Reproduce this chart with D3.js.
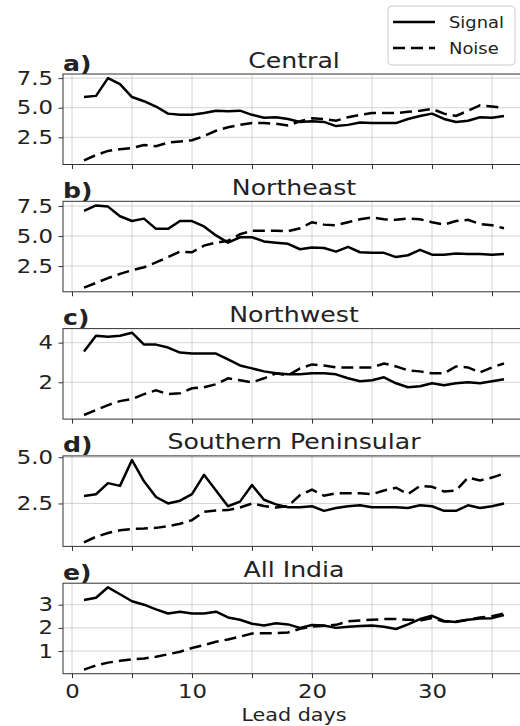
<!DOCTYPE html>
<html>
<head>
<meta charset="utf-8">
<script src="https://cdn.jsdelivr.net/npm/d3@7"></script>
<style>
  body { margin: 0; background: #fff; }
  text { font-family: "DejaVu Sans", sans-serif; fill: #222; }
  .grid line { stroke: #b0b0b0; stroke-opacity: 0.6; stroke-width: 0.9; }
  .axis path { display: none; }
  .axis line { stroke: #333; }
</style>
</head>
<body>
<svg width="520" height="726"></svg>
<script>
/* Lead days and panel names */
var days = d3.range(1, 37);
var regions = ["Central", "Northeast", "Northwest", "Southern Peninsular", "All India"];
var letters = ["a)", "b)", "c)", "d)", "e)"];

/* Signal per region */
var signalCentral = [5.9, 6.0, 7.5, 7.0, 5.9, 5.55, 5.1, 4.5, 4.4, 4.4, 4.55, 4.75, 4.7, 4.75, 4.4, 4.15, 4.2, 4.05, 3.8, 3.85, 3.8, 3.45, 3.55, 3.75, 3.7, 3.7, 3.7, 4.05, 4.3, 4.5, 4.05, 3.8, 3.9, 4.2, 4.15, 4.3];
var signalNortheast = [7.1, 7.55, 7.45, 6.65, 6.25, 6.45, 5.6, 5.6, 6.25, 6.25, 5.8, 5.05, 4.45, 4.9, 4.9, 4.55, 4.45, 4.35, 3.9, 4.05, 4.0, 3.7, 4.1, 3.65, 3.6, 3.6, 3.25, 3.4, 3.85, 3.45, 3.45, 3.55, 3.5, 3.5, 3.45, 3.5];
var signalNorthwest = [3.55, 4.35, 4.3, 4.35, 4.5, 3.9, 3.9, 3.75, 3.5, 3.45, 3.45, 3.45, 3.15, 2.85, 2.7, 2.55, 2.45, 2.4, 2.4, 2.45, 2.45, 2.4, 2.2, 2.05, 2.1, 2.25, 1.95, 1.75, 1.8, 1.95, 1.85, 1.95, 2.0, 1.95, 2.05, 2.15];
var signalSouth = [2.9, 3.0, 3.6, 3.45, 4.85, 3.7, 2.85, 2.5, 2.65, 3.0, 4.05, 3.2, 2.35, 2.6, 3.5, 2.7, 2.45, 2.3, 2.3, 2.35, 2.1, 2.25, 2.35, 2.4, 2.3, 2.3, 2.3, 2.25, 2.4, 2.35, 2.1, 2.1, 2.4, 2.25, 2.35, 2.5];
var signalIndia = [3.2, 3.3, 3.75, 3.45, 3.15, 3.0, 2.8, 2.62, 2.7, 2.62, 2.62, 2.7, 2.45, 2.35, 2.18, 2.1, 2.2, 2.15, 2.0, 2.12, 2.1, 2.0, 2.05, 2.08, 2.1, 2.05, 1.95, 2.15, 2.38, 2.52, 2.3, 2.25, 2.35, 2.4, 2.42, 2.55];

/* Noise per region */
var noiseCentral = [0.55, 1.0, 1.35, 1.5, 1.6, 1.85, 1.75, 2.05, 2.15, 2.25, 2.6, 3.05, 3.35, 3.55, 3.7, 3.7, 3.65, 3.5, 3.85, 4.1, 4.05, 3.9, 4.2, 4.4, 4.55, 4.55, 4.55, 4.65, 4.75, 4.9, 4.5, 4.3, 4.75, 5.2, 5.1, 5.0];
var noiseNortheast = [0.7, 1.1, 1.5, 1.85, 2.15, 2.4, 2.8, 3.25, 3.7, 3.65, 4.2, 4.45, 4.6, 5.15, 5.45, 5.45, 5.45, 5.4, 5.65, 6.15, 5.95, 5.9, 6.15, 6.4, 6.55, 6.4, 6.35, 6.45, 6.4, 6.15, 5.95, 6.25, 6.35, 6.0, 5.9, 5.65];
var noiseNorthwest = [0.35, 0.6, 0.85, 1.05, 1.15, 1.4, 1.6, 1.4, 1.45, 1.7, 1.75, 1.9, 2.2, 2.1, 2.0, 2.2, 2.45, 2.35, 2.7, 2.9, 2.85, 2.75, 2.75, 2.75, 2.75, 2.95, 2.8, 2.6, 2.55, 2.45, 2.45, 2.8, 2.75, 2.5, 2.75, 2.95];
var noiseSouth = [0.4, 0.7, 0.9, 1.05, 1.12, 1.14, 1.18, 1.27, 1.4, 1.6, 2.05, 2.12, 2.14, 2.28, 2.5, 2.36, 2.28, 2.36, 2.95, 3.25, 2.92, 3.05, 3.05, 3.05, 3.0, 3.2, 3.35, 3.0, 3.45, 3.4, 3.15, 3.2, 3.9, 3.75, 3.9, 4.12];
var noiseIndia = [0.2, 0.38, 0.5, 0.58, 0.64, 0.68, 0.75, 0.86, 0.97, 1.13, 1.26, 1.4, 1.5, 1.62, 1.76, 1.77, 1.77, 1.8, 1.96, 2.06, 2.09, 2.13, 2.28, 2.32, 2.35, 2.38, 2.38, 2.35, 2.32, 2.42, 2.28, 2.28, 2.35, 2.45, 2.5, 2.62];

var signal = [signalCentral, signalNortheast, signalNorthwest, signalSouth, signalIndia];
var noise = [noiseCentral, noiseNortheast, noiseNorthwest, noiseSouth, noiseIndia];

/* Tick values */
var yTicks = [[2.5, 5, 7.5], [2.5, 5, 7.5], [2, 4], [2.5, 5], [1, 2, 3]];
var yFormats = [".1f", ".1f", "d", ".1f", "d"];
var xTicks = [0, 5, 10, 15, 20, 25, 30, 35];
var xLabels = [0, 10, 20, 30];

var svg = d3.select("svg"),
    margin = {top: 74, left: 63},
    width = 462,
    height = 90.5,
    step = 127.3,
    S = 1.2; // text is a bit wider than plain DejaVu in the picture

var x = d3.scaleLinear().domain([-0.75, 37.75]).range([0, width]);

regions.forEach(function (name, i) {
    var sig = signal[i], noi = noise[i];
    var ext = d3.extent(sig.concat(noi)),
        pad = (ext[1] - ext[0]) * 0.05;
    var y = d3.scaleLinear().domain([ext[0] - pad, ext[1] + pad]).range([height, 0]);

    var g = svg.append("g")
        .attr("transform", "translate(" + margin.left + "," + (margin.top + i * step) + ")");

    /* grid */
    var grid = g.append("g").attr("class", "grid");
    grid.selectAll(".gx").data(xTicks).enter().append("line")
        .attr("x1", function (d) { return x(d); })
        .attr("x2", function (d) { return x(d); })
        .attr("y1", 0).attr("y2", height);
    grid.selectAll(".gy").data(yTicks[i]).enter().append("line")
        .attr("x1", 0).attr("x2", width)
        .attr("y1", function (d) { return y(d); })
        .attr("y2", function (d) { return y(d); });

    /* axes */
    var ya = g.append("g")
        .attr("class", "axis")
        .call(d3.axisLeft(y).tickValues(yTicks[i]).tickSize(4.5).tickFormat(d3.format(yFormats[i])));
    ya.selectAll("text")
        .attr("x", 0)
        .attr("transform", "translate(-10,0) scale(" + S + ",1)")
        .style("font-size", "19px");

    var xa = g.append("g")
        .attr("class", "axis")
        .attr("transform", "translate(0," + height + ")")
        .call(d3.axisBottom(x).tickValues(xTicks).tickSize(4.5).tickPadding(6)
            .tickFormat(function (d) {
                return (i === regions.length - 1 && xLabels.indexOf(d) >= 0) ? d : "";
            }));
    xa.selectAll("text")
        .attr("transform", "scale(" + S + ",1)")
        .style("font-size", "19px");

    /* lines */
    var line = function (vals) {
        return d3.line()
            .x(function (d, k) { return x(days[k]); })
            .y(function (d) { return y(d); })(vals);
    };
    g.append("path")
        .attr("d", line(sig))
        .attr("fill", "none").attr("stroke", "#000").attr("stroke-width", 2.5)
        .attr("stroke-linejoin", "round");
    g.append("path")
        .attr("d", line(noi))
        .attr("fill", "none").attr("stroke", "#000").attr("stroke-width", 2.5)
        .attr("stroke-dasharray", "12,6");

    /* frame */
    g.append("rect")
        .attr("width", width).attr("height", height)
        .attr("fill", "none").attr("stroke", "#333").attr("stroke-width", 1);

    /* titles */
    g.append("text")
        .attr("transform", "translate(" + (width / 2) + ",-6.5) scale(" + S + ",1)")
        .attr("text-anchor", "middle")
        .style("font-size", "21px")
        .text(name);
    g.append("text")
        .attr("transform", "translate(0,-3.5) scale(" + S + ",1)")
        .style("font-size", "21px")
        .style("font-weight", "bold")
        .text(letters[i]);
});

/* x label */
svg.append("text")
    .attr("transform", "translate(" + (margin.left + width / 2) + ",720.5) scale(1.12,1)")
    .attr("text-anchor", "middle")
    .style("font-size", "18.5px")
    .text("Lead days");

/* legend */
var lg = svg.append("g").attr("transform", "translate(388,6)");
lg.append("rect")
    .attr("width", 127).attr("height", 59).attr("rx", 4)
    .attr("fill", "#fff").attr("fill-opacity", 0.8)
    .attr("stroke", "#ccc");
var items = [{name: "Signal", dash: null}, {name: "Noise", dash: "12,6"}];
items.forEach(function (it, k) {
    var yy = 16 + k * 26;
    lg.append("line")
        .attr("x1", 5).attr("x2", 47).attr("y1", yy).attr("y2", yy)
        .attr("stroke", "#000").attr("stroke-width", 2.5)
        .attr("stroke-dasharray", it.dash);
    lg.append("text")
        .attr("transform", "translate(61," + yy + ") scale(1.12,1)")
        .attr("dy", "0.35em")
        .style("font-size", "16px")
        .text(it.name);
});
</script>
</body>
</html>
